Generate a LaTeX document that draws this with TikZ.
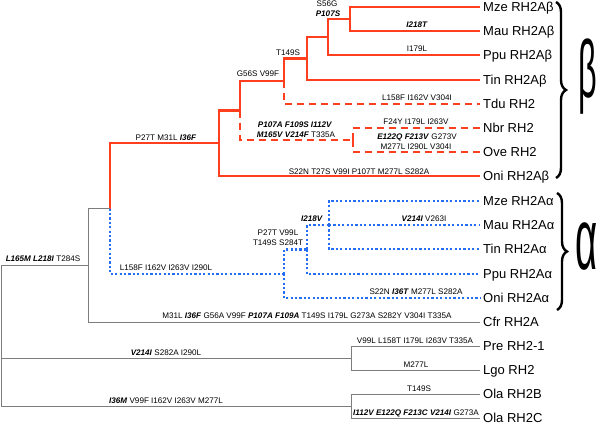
\documentclass[tikz,border=0pt]{standalone}
\usepackage{fontspec}
\usepackage{graphicx}
\setmainfont{Liberation Sans}
\usetikzlibrary{decorations.pathreplacing}
\definecolor{tred}{RGB}{255,62,30}
\definecolor{tblue}{RGB}{35,110,245}
\definecolor{tgray}{RGB}{125,125,125}
\newcommand\mutbi[1]{\textbf{\textit{#1}}}
\begin{document}
\begin{tikzpicture}[x=1pt,y=-1pt,
  rl/.style={draw=tred,line width=2.3pt},
  rd/.style={draw=tred,line width=2.3pt,dash pattern=on 7pt off 5pt},
  bd/.style={draw=tblue,line width=2.2pt,dash pattern=on 2.2pt off 2.2pt},
  gl/.style={draw=tgray,line width=0.9pt},
  leaf/.style={anchor=west,inner xsep=3pt,inner ysep=0pt,font=\fontsize{13}{13}\selectfont,text height=9.3pt,text depth=0pt},
  mut/.style={inner sep=0pt,font=\fontsize{8.1}{9.6}\selectfont,align=center},
  brc/.style={draw=black,line width=2.4pt,decorate,decoration={brace,amplitude=10pt}}]
\useasboundingbox (0,0) rectangle (600,424);

% leaves
\node[leaf] (Lmzeb) at (480,7) {Mze RH2Aβ};
\node[leaf] (Lmaub) at (480,31) {Mau RH2Aβ};
\node[leaf] (Lppub) at (480,55) {Ppu RH2Aβ};
\node[leaf] (Ltinb) at (480,80) {Tin RH2Aβ};
\node[leaf] (Ltdu) at (480,104) {Tdu RH2};
\node[leaf] (Lnbr) at (480,128) {Nbr RH2};
\node[leaf] (Love) at (480,152) {Ove RH2};
\node[leaf] (Lonib) at (480,176) {Oni RH2Aβ};
\node[leaf] (Lmzea) at (480,201) {Mze RH2Aα};
\node[leaf] (Lmaua) at (480,225) {Mau RH2Aα};
\node[leaf] (Ltina) at (480,249) {Tin RH2Aα};
\node[leaf] (Lppua) at (480,274) {Ppu RH2Aα};
\node[leaf] (Lonia) at (480,298) {Oni RH2Aα};
\node[leaf] (Lcfr) at (480,322) {Cfr RH2A};
\node[leaf] (Lpre) at (480,346) {Pre RH2-1};
\node[leaf] (Llgo) at (480,370) {Lgo RH2};
\node[leaf] (Lolab) at (480,394) {Ola RH2B};
\node[leaf] (Lolac) at (480,418) {Ola RH2C};

% internal nodes
\coordinate (n350) at (350,19);
\coordinate (n328) at (328,37);
\coordinate (n307) at (307,58.5);
\coordinate (n284) at (284,81.25);
\coordinate (n353) at (353,140);
\coordinate (n240) at (240,110.6);
\coordinate (n219) at (219,143.3);
\coordinate (n329) at (329,225);
\coordinate (n307a) at (307,249.5);
\coordinate (n284a) at (284,273.8);
\coordinate (n110) at (110,208.5);
\coordinate (n88) at (88,265.3);
\coordinate (n351a) at (351,358);
\coordinate (n351b) at (351,406);
\coordinate (root) at (1.5,335);

% beta clade
\draw[rl] (n350) |- (Lmzeb.west);
\draw[rl] (n350) |- (Lmaub.west);
\draw[rl] (n328) |- (n350);
\draw[rl] (n328) |- (Lppub.west);
\draw[rl] (n307) |- (n328);
\draw[rl] (n307) |- (Ltinb.west);
\draw[rl] (n284) |- (n307);
\draw[rd] (n284) |- (Ltdu.west);
\draw[rd] (n353) |- (Lnbr.west);
\draw[rd] (n353) |- (Love.west);
\draw[rl] (n240) |- (n284);
\draw[rd] (n240) |- (n353);
\draw[rl] (n219) |- (n240);
\draw[rl] (n219) |- (Lonib.west);
\draw[rl] (n110) |- (n219);
% alpha clade
\draw[bd] (n110) |- (n284a);
\draw[bd] (n284a) |- (n307a);
\draw[bd] (n284a) |- (Lonia.west);
\draw[bd] (n307a) |- (n329);
\draw[bd] (n307a) |- (Lppua.west);
\draw[bd] (n329) |- (Lmzea.west);
\draw[bd] (n329) -- (Lmaua.west);
\draw[bd] (n329) |- (Ltina.west);
% gray part
\draw[gl] (n88) |- (n110);
\draw[gl] (n88) |- (Lcfr.west);
\draw[gl] (root) |- (n88);
\draw[gl] (root) |- (n351a);
\draw[gl] (root) |- (n351b);
\draw[gl] (n351a) |- (Lpre.west);
\draw[gl] (n351a) |- (Llgo.west);
\draw[gl] (n351b) |- (Lolab.west);
\draw[gl] (n351b) |- (Lolac.west);

% mutation labels
\node[mut] (m1) at (327,4) {S56G};
\node[mut] (m2) at (328,14) {\mutbi{P107S}};
\node[mut] (m3) at (417,25) {\mutbi{I218T}};
\node[mut] (m4) at (417,49) {I179L};
\node[mut] (m5) at (288,53) {T149S};
\node[mut] (m6) at (258,74) {G56S V99F};
\node[mut] (m7) at (417,98) {L158F I162V V304I};
\node[mut] (m8) at (416,122) {F24Y I179L I263V};
\node[mut] (m9) at (417,137) {\mutbi{E122Q F213V} G273V};
\node[mut] (m10) at (416,147) {M277L I290L V304I};
\node[mut] (m11) at (295,125) {\mutbi{P107A F109S I112V}};
\node[mut] (m12) at (296,134.5) {\mutbi{M165V V214F} T335A};
\node[mut] (m13) at (166,138) {P27T M31L \mutbi{I36F}};
\node[mut] (m14) at (359,171.5) {S22N T27S V99I P107T M277L S282A};
\node[mut] (m15) at (43,259) {\mutbi{L165M L218I} T284S};
\node[mut] (m16) at (166,268) {L158F I162V I263V I290L};
\node[mut] (m17) at (278,238) {P27T V99L\\T149S S284T};
\node[mut] (m18) at (312,219) {\mutbi{I218V}};
\node[mut] (m19) at (424,219) {\mutbi{V214I} V263I};
\node[mut] (m20) at (416,292) {S22N \mutbi{I36T} M277L S282A};
\node[mut] (m21) at (307,316) {M31L \mutbi{I36F} G56A V99F \mutbi{P107A F109A} T149S I179L G273A S282Y V304I T335A};
\node[mut] (m22) at (166,353) {\mutbi{V214I} S282A I290L};
\node[mut] (m23) at (166,401) {\mutbi{I36M} V99F I162V I263V M277L};
\node[mut] (m24) at (415,341) {V99L L158T I179L I263V T335A};
\node[mut] (m25) at (416,365) {M277L};
\node[mut] (m26) at (419,389) {T149S};
\node[mut] (m27) at (416,413) {\mutbi{I112V E122Q F213C V214I} G273A};

% braces and greek letters
\coordinate (bb1) at (556,2);
\coordinate (bb2) at (556,178);
\coordinate (ab1) at (557,193);
\coordinate (ab2) at (557,310);
\draw[brc] (bb1) -- (bb2);
\draw[brc] (ab1) -- (ab2);
\node[inner sep=0pt] (gbeta) at (588,77) {\scalebox{0.4}[1]{\fontsize{81}{81}\selectfont β}};
\node[inner sep=0pt] (galpha) at (587,247) {\scalebox{0.44}[1]{\fontsize{87}{87}\selectfont α}};
\end{tikzpicture}
\end{document}
